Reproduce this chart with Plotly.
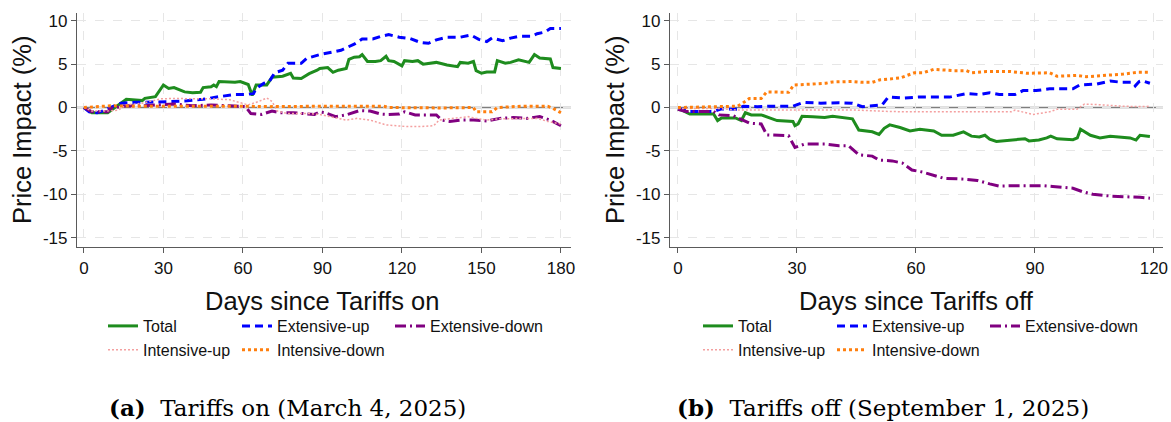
import plotly.graph_objects as go

# ---------------- Data: panel (a) Tariffs on ----------------
on_total_days = [0,3,9,14,16,22,23,27,30,32,34,38,41,44,45,48,49,50,51,57,59,62,63.5,65,69,71,75,78,79,82,85,88,89,92,94,96,99,100,102,104,105,107,110,112,114,115,117,120,121,124,126,128,133,137,141,142,145,147,148,150,152,155,156,159,161,164,168,170,172,176,177,180]
on_total_vals = [0,-0.6,-0.6,0.5,0.95,0.8,1.06,1.25,2.6,2.2,2.3,1.8,1.7,1.75,2.3,2.4,2.6,2.4,3.0,2.9,3.0,2.65,1.4,2.6,2.6,3.5,3.6,3.95,3.4,3.35,3.9,4.3,4.5,4.6,4.05,4.3,4.5,5.55,5.8,5.85,6.1,5.3,5.3,5.4,5.9,5.4,5.3,4.8,5.4,5.3,5.4,5.0,5.2,4.9,4.7,5.2,5.1,5.3,4.25,3.95,4.1,4.1,5.4,5.1,5.2,5.5,5.2,6.1,5.7,5.6,4.6,4.5]

on_extup_days = [0,2,5,8,10,14,20,26,32,38,45,51,57,61,64,65,68,70,72,75,77,82,84,89,91,94,97,102,105,109,112,115,119,123,127,130,133,137,142,146,149,152,154,158,161,164,169,171,174,176,180]
on_extup_vals = [0,-0.5,-0.6,-0.3,0,0.5,0.6,0.6,0.67,0.75,0.95,1.25,1.5,1.5,1.6,2.2,2.8,3.0,4.0,4.3,5.1,5.1,5.65,6.1,6.2,6.4,6.6,7.3,7.9,7.9,8.2,8.4,8.1,7.95,7.5,7.4,7.8,8.1,8.1,8.35,7.85,7.6,8.0,7.7,8.0,8.2,8.2,8.5,8.7,9.1,9.1]

on_extdown_days = [0,3,9,10,16,22,28,34,41,48,55,61,63,67,71,74,79,87,89,91,95,99,104,108,112,115,119,121,125,133,135,138,142,147,152,157,162,167,172,176,180]
on_extdown_vals = [0,-0.5,-0.5,-0.1,0.2,0.2,0.3,0.4,0.2,0.3,0.2,0.1,-0.7,-0.8,-0.4,-0.6,-0.6,-0.8,-0.5,-0.6,-1.05,-0.85,-0.35,-0.4,-0.75,-0.8,-0.75,-0.5,-0.85,-0.85,-1.45,-1.6,-1.45,-1.45,-1.55,-1.25,-1.15,-1.25,-1.05,-1.45,-2.1]

on_intup_days = [0,3,9,13,16,22,29,34,41,48,55,59,62,66,69,71,73,77,85,89,94,99,103,108,114,119,122,127,132,134,139,145,148,152,157,167,171,175,180]
on_intup_vals = [0,-0.4,-0.4,-0.3,0.3,0.5,1.0,1.05,1.0,1.0,0.9,0.6,0.3,0.7,1.1,0.7,-0.4,-0.7,-0.7,-0.8,-1.1,-1.45,-1.25,-1.45,-2.0,-2.1,-2.2,-2.2,-2.1,-1.45,-1.25,-1.05,-1.25,-1.45,-1.3,-1.3,-1.25,-1.6,-1.9]

on_intdown_days = [0,5,10,20,30,40,50,60,70,80,90,100,108,113,115,125,135,147,148,154,156,165,175,177,180]
on_intdown_vals = [0,0.1,0.2,0.15,0.15,0.15,0.2,0.15,0.1,0.15,0.15,0.15,0.2,0.15,0.0,-0.05,-0.05,0.0,-0.5,-0.5,0.0,0.15,0.15,-0.1,-0.6]

# ---------------- Data: panel (b) Tariffs off ----------------
off_total_days = [0,1,3,9,10,11,14.5,16,17,18.5,21,23,25,29,29.5,30.3,31.3,34,37,39,42,44,45.6,49,50.7,52,53.4,56,58.5,61,64.5,66.5,69.4,72,74,76,77.4,78.6,80.3,83.7,86,87.5,88.5,91,93,94,95.6,99.6,100.7,101.5,104,106.4,109,111.5,114,115.5,116.5,119]
off_total_vals = [-0.2,-0.3,-0.75,-0.75,-1.5,-1.2,-1.2,-1.5,-0.6,-0.85,-0.85,-1.2,-1.5,-1.6,-2.1,-1.9,-1.0,-1.05,-1.15,-1.0,-1.2,-1.3,-2.6,-2.8,-3.1,-2.4,-2.0,-2.3,-2.7,-2.5,-2.7,-3.2,-3.2,-2.8,-3.3,-3.4,-3.2,-3.65,-3.9,-3.75,-3.65,-3.6,-3.85,-3.75,-3.5,-3.3,-3.6,-3.7,-3.5,-2.5,-3.2,-3.5,-3.3,-3.4,-3.5,-3.75,-3.2,-3.35]

off_extup_days = [0,2,3,9,11,15,16.5,20,23.5,29,31.7,36,40.6,44,46.5,50,51.5,53,57,60.6,63.5,68.5,72.7,76,78.6,81,85,87,90.3,93.7,99.6,101.3,105.5,109,112,114.6,115.3,116.3,117,119]
off_extup_vals = [-0.2,-0.2,-0.45,-0.45,-0.15,-0.2,0.15,0.1,0.15,0.15,0.6,0.5,0.55,0.5,0.1,0.3,0.3,1.2,1.1,1.2,1.2,1.2,1.6,1.5,1.7,1.5,1.5,1.95,1.95,2.15,2.15,2.6,2.7,3.05,2.9,2.9,2.5,3.0,3.1,2.8]

off_extdown_days = [0,2,9,10.3,14,16.3,18,21,22.4,27.9,29.5,32,37,40.6,43,45.6,49,50.7,54,56.6,59,61.8,64.5,67,72,75.5,78.6,81,86,92,94.5,99.6,102,104.6,109,114,116.5,119]
off_extdown_vals = [-0.2,-0.45,-0.45,-0.85,-0.95,-1.45,-1.8,-1.9,-3.15,-3.25,-4.6,-4.2,-4.2,-4.4,-4.4,-5.45,-5.6,-6.05,-6.15,-6.4,-7.2,-7.45,-7.8,-8.15,-8.25,-8.4,-8.8,-9.05,-9.0,-9.0,-9.1,-9.3,-9.7,-10.0,-10.2,-10.25,-10.35,-10.45]

off_intup_days = [0,10,15,30,45,53,58,70,84,85,89.5,93.7,95.6,100.6,102.5,107.3,112.3,117,119]
off_intup_vals = [-0.1,-0.1,-0.3,-0.3,-0.3,-0.45,-0.5,-0.5,-0.5,-0.3,-0.8,-0.5,-0.2,-0.2,0.4,0.3,0.15,0.1,0.15]

off_intdown_days = [0,8,15,16.3,18,21,22.4,27.9,29.2,33.9,37.3,39,44,46.5,49,51,56,59.6,61.8,64.5,69.4,72.7,74,77.8,83.7,87.9,93.7,95.6,100.6,103,107.3,112.3,115.7,119]
off_intdown_vals = [0,0.05,0.15,0.5,1.05,1.05,1.8,1.75,2.6,2.7,2.8,2.95,3.0,2.9,2.9,3.2,3.4,4.0,4.0,4.4,4.25,4.25,4.0,4.15,4.15,3.95,4.0,3.6,3.7,3.55,3.65,3.85,4.05,4.05]

x_ticks_on = [0, 30, 60, 90, 120, 150, 180]
x_ticks_off = [0, 30, 60, 90, 120]
y_ticks = [-15, -10, -5, 0, 5, 10]
y_tick_labels = ["-15", "-10", "-5", "0", "5", "10"]

series_names = ["Total", "Extensive-up", "Extensive-down", "Intensive-up", "Intensive-down"]
# legend column of each series (Stata-style 3-column key: row 1 = first three)
legend_column = [0, 1, 2, 0, 1]

# ---------------- Styles ----------------
styles = {
    "Total": dict(color="#1e8c1e", width=3, dash="solid"),
    "Extensive-up": dict(color="#0000ff", width=3, dash="8px,5px"),
    "Extensive-down": dict(color="#800080", width=3, dash="11px,4px,2px,4px"),
    "Intensive-up": dict(color="#f4a0a0", width=1.5, dash="2px,2px"),
    "Intensive-down": dict(color="#ff7f0e", width=3, dash="3px,3px"),
}

FONT = "Liberation Sans, Arial, sans-serif"
W, H = 1171, 422
ML, MR, MT, MB = 77, 8, 13, 175
PW, PH = W - ML - MR, H - MT - MB


def px_to_paper_x(px):
    return (px - ML) / PW


def py_to_paper_y(py):
    return (H - MB - py) / PH


fig = go.Figure()

panels = [
    ("x", "y", 1, [on_total_days, on_extup_days, on_extdown_days, on_intup_days, on_intdown_days],
     [on_total_vals, on_extup_vals, on_extdown_vals, on_intup_vals, on_intdown_vals]),
    ("x2", "y2", 4, [off_total_days, off_extup_days, off_extdown_days, off_intup_days, off_intdown_days],
     [off_total_vals, off_extup_vals, off_extdown_vals, off_intup_vals, off_intdown_vals]),
]
for xa, ya, lg0, xs, ys in panels:
    for i in range(5):
        name = series_names[i]
        lg_index = lg0 + legend_column[i]
        lg = "legend" if lg_index == 1 else f"legend{lg_index}"
        fig.add_trace(go.Scatter(
            x=xs[i], y=ys[i], mode="lines", name=name, xaxis=xa, yaxis=ya,
            legend=lg, line=dict(**styles[name]), legendrank=i + 1,
        ))

axis_common = dict(
    showline=True, linecolor="#5a5a5a", linewidth=1.2,
    ticks="outside", ticklen=5, tickcolor="#5a5a5a", tickwidth=1.2,
    tickfont=dict(family=FONT, size=17, color="#111"),
    showgrid=True, gridcolor="#e6e6e6", griddash="dash", gridwidth=1,
    zeroline=False, mirror=False, automargin=False,
)

fig.update_layout(
    width=W, height=H,
    margin=dict(l=ML, r=MR, t=MT, b=MB, autoexpand=False),
    paper_bgcolor="white", plot_bgcolor="white",
    font=dict(family=FONT, color="#111"),
    xaxis=dict(domain=[0, px_to_paper_x(571)], range=[-2.6, 183.8], tickvals=x_ticks_on,
               anchor="y", **axis_common),
    yaxis=dict(domain=[0, 1], range=[-16.07, 10.89], tickvals=y_ticks, ticktext=y_tick_labels,
               anchor="x", **axis_common),
    xaxis2=dict(domain=[px_to_paper_x(670), 1], range=[-2.0, 122.3], tickvals=x_ticks_off,
                anchor="y2", **axis_common),
    yaxis2=dict(domain=[0, 1], range=[-16.07, 10.89], tickvals=y_ticks, ticktext=y_tick_labels,
                anchor="x2", **axis_common),
)

# six small legends: three key columns under each panel
legend_x_left = [103, 237, 390]
legend_x_right = [698, 832, 985]
for k, xpos in enumerate(legend_x_left + legend_x_right):
    key = "legend" if k == 0 else f"legend{k + 1}"
    fig.update_layout({key: dict(
        orientation="v", xref="container", yref="container",
        x=xpos / W, y=1 - 309 / H, xanchor="left", yanchor="top",
        font=dict(family=FONT, size=16, color="#111"), bgcolor="rgba(0,0,0,0)",
        itemwidth=30, tracegroupgap=0, borderwidth=0,
    )})

# zero reference lines
for xr, yr in [("x domain", "y"), ("x2 domain", "y2")]:
    fig.add_shape(type="line", xref=xr, yref=yr, x0=0, x1=1, y0=0, y1=0,
                  line=dict(color="#7f7f7f", width=1.5), layer="below")

# axis titles
title_font = dict(size=25.5, family=FONT, color="#111")
for text, px, py, ang in [
    ("Price Impact (%)", 22, 130, -90),
    ("Price Impact (%)", 615, 130, -90),
    ("Days since Tariffs on", 322, 301, 0),
    ("Days since Tariffs off", 916, 301, 0),
]:
    fig.add_annotation(text=text, xref="paper", yref="paper", x=px_to_paper_x(px), y=py_to_paper_y(py),
                       showarrow=False, textangle=ang, font=title_font,
                       xanchor="center", yanchor="middle")

# panel captions
SERIF = "DejaVu Serif, Liberation Serif, serif"
for text, px in [("<b>(a)</b>  Tariffs on (March 4, 2025)", 287),
                 ("<b>(b)</b>  Tariffs off (September 1, 2025)", 883)]:
    fig.add_annotation(text=text, xref="paper", yref="paper", x=px_to_paper_x(px), y=py_to_paper_y(407),
                       showarrow=False, font=dict(family=SERIF, size=23, color="#000"),
                       xanchor="center", yanchor="middle")

fig.write_html("out.html")
